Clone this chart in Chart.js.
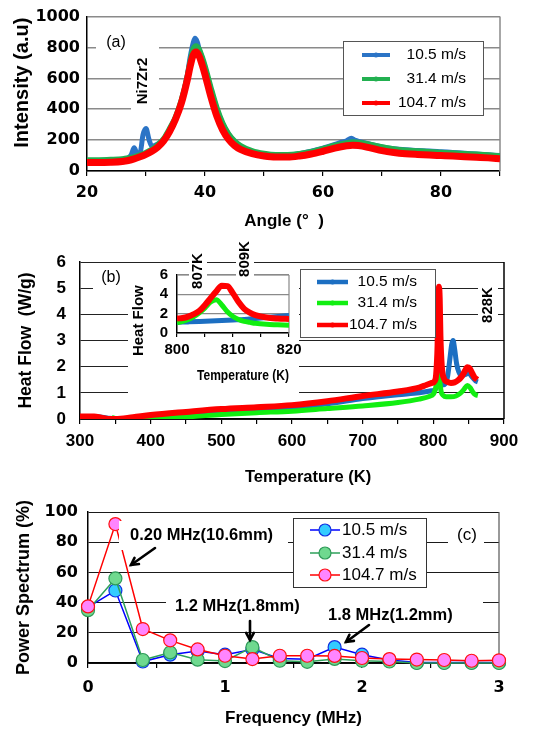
<!DOCTYPE html>
<html><head><meta charset="utf-8">
<script src="https://cdn.jsdelivr.net/npm/chart.js@4/dist/chart.umd.min.js"></script>
<style>
html,body{margin:0;padding:0;background:#fff;}
#wrap{position:relative;width:554px;height:731px;overflow:hidden;background:#fff;}
canvas{position:absolute;left:0;top:0;}
#insetBg{position:absolute;left:128px;top:266px;width:171px;height:132px;background:#fff;}
</style></head><body><div id="wrap">
<canvas id="cA" width="554" height="731"></canvas>
<canvas id="cB" width="554" height="731"></canvas>
<canvas id="cC" width="554" height="731"></canvas>
<div id="insetBg"></div>
<canvas id="cI" width="554" height="731"></canvas>
</div>
<script>
// ---------- DATA ----------
const seriesNames = ['10.5 m/s', '31.4 m/s', '104.7 m/s'];

// (a) XRD
const xrdAngle = [20,22,24,26,27,28,29,30,31,32,33,34,35,36,37,37.5,38,38.5,39,39.5,40,41,42,43,44,45,46,48,50,52,54,56,58,60,62,64,65,66,68,70,72,74,76,78,80,82,84,86,88,90];
const xrdRed   = [55,55,57,62,68,78,92,108,128,155,195,255,335,440,590,680,750,770,745,690,625,480,355,265,205,165,140,112,97,90,90,97,110,128,148,163,167,165,150,132,120,112,107,103,100,97,93,89,85,80];
const xrdGreen = [72,72,74,78,84,92,105,120,140,170,210,275,350,460,610,710,790,810,790,740,680,540,410,310,240,195,165,130,113,105,105,112,125,145,165,182,188,185,172,155,143,135,130,125,120,116,112,108,103,97];
const xrdBlueAngle = [20,22,24,26,27,27.5,28,28.5,29,29.5,30,30.5,31,32,33,34,35,36,37,37.5,38,38.3,38.7,39,39.5,40,41,42,43,44,45,46,48,50,52,54,56,58,60,62,63,64,64.8,65.5,66,68,70,72,74,76,78,80,82,84,86,88,90];
const xrdBlue  = [65,66,70,76,85,105,150,112,118,235,275,205,160,175,205,270,345,455,620,740,830,860,835,790,735,670,530,405,305,238,192,160,126,110,102,104,112,128,148,172,185,196,212,198,192,174,156,144,137,133,130,125,120,115,110,105,100];
const xrdXLabels = [20,40,60,80];
const xrdYLabels = [0,200,400,600,800,1000];

// (b) DSC
const dscRedT = [300,310,320,330,340,350,375,400,450,500,550,600,650,700,750,780,790,798,802,804,806,807,808,809,810,812,815,820,825,830,835,840,845,848,851,855,858,862];
const dscRed  = [0.10,0.10,0.10,0.05,0.0,0.0,0.07,0.15,0.27,0.38,0.45,0.53,0.68,0.88,1.05,1.2,1.3,1.38,1.45,1.7,2.8,4.2,5.05,4.6,3.2,2.0,1.55,1.42,1.38,1.4,1.48,1.62,1.85,1.98,1.95,1.75,1.6,1.5];
const dscBlueT = [300,320,340,360,400,450,500,550,600,650,700,750,780,795,802,805,807,808,810,813,817,820,823,826,828,830,833,836,840,845,850,855,860,863];
const dscBlue  = [0.1,0.1,0.03,0.02,0.1,0.2,0.3,0.37,0.45,0.58,0.78,0.93,1.0,1.07,1.12,1.25,1.7,1.9,1.5,1.3,1.35,1.6,2.2,2.85,3.0,2.7,2.1,1.8,1.65,1.7,1.75,1.6,1.45,1.42];
const dscGreenT = [345,350,380,400,450,500,550,600,650,700,750,780,795,800,803,805,806,807,808,809,811,814,818,825,832,838,843,848,852,856,860,863];
const dscGreen  = [0.06,0.02,0.0,0.03,0.08,0.17,0.24,0.3,0.4,0.5,0.63,0.76,0.87,0.95,1.15,1.5,1.9,2.3,2.0,1.5,1.05,0.9,0.85,0.85,0.88,0.98,1.12,1.28,1.2,1.02,0.92,0.9];
const dscXLabels = [300,400,500,600,700,800,900];
const dscYLabels = [0,1,2,3,4,5,6];

// (b) inset
const insetT = [800,801,802,803,804,805,806,807,808,809,810,811,812,813,814,816,818,820];
const insetRed   = [1.5,1.55,1.7,1.95,2.3,2.9,3.6,4.3,4.9,4.85,4.1,3.2,2.5,2.1,1.85,1.6,1.5,1.45];
const insetGreen = [1.05,1.2,1.4,1.7,2.1,2.6,3.2,3.45,2.9,2.2,1.7,1.4,1.2,1.1,1.0,0.9,0.85,0.8];
const insetBlueT = [800,802,804,806,808,810,812,814,816,818,820];
const insetBlue  = [1.1,1.15,1.2,1.25,1.3,1.35,1.4,1.5,1.6,1.7,1.8];
const insetXLabels = [800,810,820];
const insetYLabels = [0,2,4,6];

// (c) power spectrum
const freq    = [0,0.2,0.4,0.6,0.8,1.0,1.2,1.4,1.6,1.8,2.0,2.2,2.4,2.6,2.8,3.0];
const psBlue  = [37,48,1,5.5,8,5.5,9,3,2.5,10.5,5.5,2,0.3,0.3,0.3,0.3];
const psGreen = [35,56,2,7,2.2,1.3,10.5,1.5,0.8,2.7,1.5,1,0,0,0,0];
const psRed   = [37.5,92,22.5,15,9,4.8,2.6,4.8,4.8,4.7,3.3,2.6,2.3,2,1.5,1.8];
const psXLabels = [0,1,2,3];
const psYLabels = [0,20,40,60,80,100];

// ---------- HELPERS ----------
const F = "'Liberation Sans', Arial, sans-serif";
const FD = "'DejaVu Sans', sans-serif";
const pts = (xs, ys) => xs.map((x, i) => ({x: x, y: ys[i]}));
const lab = arr => v => arr.includes(Math.round(v * 1000) / 1000) ? String(Math.round(v * 1000) / 1000) : '';
let ovCount = 0;

function whiteRect(ctx, b) { ctx.fillStyle = '#fff'; ctx.fillRect(b[0], b[1], b[2] - b[0], b[3] - b[1]); }

function overlay(cfg) {
  ovCount++;
  return {
    id: 'ov' + ovCount,
    beforeDatasetsDraw(chart) {
      const ctx = chart.ctx, a = chart.chartArea;
      ctx.save();
      if (cfg.frame) {
        ctx.strokeStyle = cfg.frame.color; ctx.lineWidth = cfg.frame.width;
        ctx.beginPath(); ctx.moveTo(a.right, a.top); ctx.lineTo(a.right, a.bottom); ctx.stroke();
        if (cfg.frame.top) { ctx.beginPath(); ctx.moveTo(a.left, a.top); ctx.lineTo(a.right, a.top); ctx.stroke(); }
      }
      (cfg.texts || []).forEach(t => { if (t.box && !t.over) whiteRect(ctx, t.box); });
      ctx.restore();
    },
    afterDatasetsDraw(chart) {
      const ctx = chart.ctx;
      ctx.save();
      (cfg.texts || []).forEach(t => {
        if (t.box && t.over) whiteRect(ctx, t.box);
        ctx.save();
        ctx.translate(t.x, t.y);
        if (t.rot) ctx.rotate(t.rot * Math.PI / 180);
        ctx.fillStyle = '#000'; ctx.font = t.font;
        ctx.textAlign = t.align || 'center'; ctx.textBaseline = 'middle';
        ctx.fillText(t.t, 0, 0);
        ctx.restore();
      });
      (cfg.arrows || []).forEach(ar => {
        const [x1, y1, x2, y2] = ar;
        ctx.strokeStyle = '#000'; ctx.lineWidth = 2.6; ctx.lineCap = 'round';
        ctx.beginPath(); ctx.moveTo(x1, y1); ctx.lineTo(x2, y2); ctx.stroke();
        const ang = Math.atan2(y2 - y1, x2 - x1), h = 8;
        ctx.beginPath();
        ctx.moveTo(x2 - h * Math.cos(ang - 0.5), y2 - h * Math.sin(ang - 0.5));
        ctx.lineTo(x2, y2);
        ctx.lineTo(x2 - h * Math.cos(ang + 0.5), y2 - h * Math.sin(ang + 0.5));
        ctx.stroke();
      });
      const L = cfg.legend;
      if (L) {
        const [x1, y1, x2, y2] = L.box;
        whiteRect(ctx, L.box);
        ctx.strokeStyle = L.border; ctx.lineWidth = 1;
        ctx.strokeRect(x1 + 0.5, y1 + 0.5, x2 - x1, y2 - y1);
        chart.data.datasets.forEach((ds, i) => {
          const y = L.rows[i];
          ctx.strokeStyle = ds.borderColor; ctx.lineWidth = L.lineWidth; ctx.lineCap = 'butt';
          ctx.beginPath(); ctx.moveTo(L.lineX[0], y); ctx.lineTo(L.lineX[1], y); ctx.stroke();
          const mx = (L.lineX[0] + L.lineX[1]) / 2;
          ctx.beginPath(); ctx.arc(mx, y, L.markerR, 0, Math.PI * 2);
          ctx.fillStyle = ds.pointBackgroundColor || ds.borderColor; ctx.fill();
          if (L.markerStroke) { ctx.lineWidth = L.markerStroke; ctx.strokeStyle = ds.pointBorderColor || ds.borderColor; ctx.stroke(); }
          ctx.fillStyle = '#000'; ctx.font = L.font; ctx.textAlign = L.align; ctx.textBaseline = 'middle';
          ctx.fillText(ds.label, L.textX, y);
        });
      }
      ctx.restore();
    },
    afterDraw(chart) {
      // y tick labels positioned by the chart's own y scale (used for the small inset)
      const Y = cfg.yTickLabels;
      if (!Y) return;
      const ctx = chart.ctx, s = chart.scales.y;
      ctx.save();
      ctx.fillStyle = '#000'; ctx.font = Y.font; ctx.textAlign = 'right'; ctx.textBaseline = 'middle';
      Y.values.forEach(v => {
        ctx.fillText(String(v), s.right - Y.pad, s.getPixelForValue(v));
      });
      ctx.restore();
    }
  };
}

function xAxis(o) {
  return {
    type: 'linear', min: o.min, max: o.max,
    afterFit: s => { s.height = o.h; },
    ticks: { stepSize: o.step, autoSkip: false, maxRotation: 0, minRotation: 0, padding: o.pad,
      font: o.font, color: '#000', callback: lab(o.labels) },
    grid: { drawOnChartArea: false, drawTicks: true, tickLength: o.tick, color: '#000', lineWidth: 1.2 },
    border: { display: true, color: '#000', width: 1.5 },
    title: { display: true, text: o.title, font: o.tfont, color: '#000', padding: 0 }
  };
}
function yAxis(o) {
  return {
    type: 'linear', min: o.min, max: o.max,
    afterFit: s => { s.width = o.w; },
    afterBuildTicks: s => { s.ticks = o.labels.map(v => ({ value: v })); },
    ticks: { display: o.showTicks !== false, autoSkip: false, padding: o.pad, font: o.font, color: '#000', callback: lab(o.labels) },
    grid: { color: o.gcolor, lineWidth: o.gwidth, drawTicks: false },
    border: { display: true, color: '#000', width: 1.5 },
    title: { display: true, text: o.title, font: o.tfont, color: '#000', padding: { top: o.tpad, bottom: 0 } }
  };
}
const base = pad => ({
  responsive: false, animation: false, events: [],
  layout: { padding: pad },
  plugins: { legend: { display: false }, tooltip: { enabled: false }, title: { display: false } }
});
const line = (label, data, color, w, order) => ({
  label: label, data: data, showLine: true, borderColor: color, backgroundColor: color,
  borderWidth: w, pointRadius: 0, order: order, cubicInterpolationMode: 'monotone'
});

// ---------- (a) ----------
const aCol = ['#2B74C6', '#22B050', '#FF0000'];
new Chart(document.getElementById('cA'), {
  type: 'scatter',
  data: { datasets: [
    line(seriesNames[0], pts(xrdBlueAngle, xrdBlue), aCol[0], 5, 2),
    line(seriesNames[1], pts(xrdAngle, xrdGreen), aCol[1], 5.5, 1),
    line(seriesNames[2], pts(xrdAngle, xrdRed), aCol[2], 7, 0)
  ]},
  options: Object.assign(base({ left: 0, top: 16, right: 54, bottom: 499 }), {
    scales: {
      x: xAxis({ min: 20, max: 90, step: 10, h: 61, pad: 7, tick: 5, labels: xrdXLabels,
        font: { family: FD, size: 16, weight: 'bold' }, title: 'Angle (°  )    ',
        tfont: { family: F, size: 17, weight: 'bold' } }),
      y: yAxis({ min: 0, max: 1000, w: 87, pad: 7, labels: xrdYLabels,
        font: { family: FD, size: 16, weight: 'bold' }, gcolor: '#8a8a8a', gwidth: 1.5,
        title: '    Intensity (a.u)', tfont: { family: F, size: 20, weight: 'bold' }, tpad: 10 })
    }
  }),
  plugins: [overlay({
    frame: { color: '#8a8a8a', width: 1.5 },
    texts: [
      { t: '(a)', x: 116, y: 43, font: "16px " + F, box: [96, 30, 131, 58] },
      { t: 'Ni7Zr2', x: 143, y: 81, rot: -90, font: "bold 15px " + F, box: [131, 40, 159, 113] }
    ],
    legend: { box: [343, 41, 483, 115], border: '#555', rows: [55, 79, 103], lineX: [362, 390],
      lineWidth: 4, markerR: 2.5, textX: 466, align: 'right', font: "15.5px " + F }
  })]
});

// ---------- (b) main ----------
const bCol = ['#1C6FC2', '#11EE11', '#FF0000'];
new Chart(document.getElementById('cB'), {
  type: 'scatter',
  data: { datasets: [
    line(seriesNames[0], pts(dscBlueT, dscBlue), bCol[0], 5, 2),
    line(seriesNames[1], pts(dscGreenT, dscGreen), bCol[1], 5, 1),
    line(seriesNames[2], pts(dscRedT, dscRed), bCol[2], 6, 0)
  ]},
  options: Object.assign(base({ left: 0, top: 262, right: 50, bottom: 244 }), {
    scales: {
      x: xAxis({ min: 300, max: 900, step: 50, h: 68, pad: 7, tick: 5, labels: dscXLabels,
        font: { family: F, size: 17, weight: 'bold' }, title: '       Temperature (K)',
        tfont: { family: F, size: 16.5, weight: 'bold' } }),
      y: yAxis({ min: 0, max: 6, w: 80, pad: 14, labels: dscYLabels,
        font: { family: F, size: 17, weight: 'bold' }, gcolor: '#222', gwidth: 1,
        title: 'Heat Flow  (W/g)', tfont: { family: F, size: 17.5, weight: 'bold' }, tpad: 16 })
    }
  }),
  plugins: [overlay({
    frame: { color: '#000', width: 1.5 },
    texts: [
      { t: '(b)', x: 111, y: 278, font: "16px " + F, box: [93, 266, 128, 292] },
      { t: '828K', x: 488, y: 305, rot: -90, font: "bold 15px " + F, box: [478, 284, 498, 327] }
    ],
    legend: { box: [300, 269, 435, 337], border: '#555', rows: [282, 303, 325], lineX: [317, 348],
      lineWidth: 4.5, markerR: 2.5, textX: 417, align: 'right', font: "15.5px " + F }
  })]
});

// ---------- (c) ----------
new Chart(document.getElementById('cC'), {
  type: 'scatter',
  data: { datasets: [
    { label: seriesNames[0], data: pts(freq, psBlue), showLine: true, borderColor: '#0000FF', borderWidth: 1.5,
      pointRadius: 6.5, pointBackgroundColor: '#33CCFF', pointBorderColor: '#1030E0', pointBorderWidth: 1.2, order: 2, clip: false },
    { label: seriesNames[1], data: pts(freq, psGreen), showLine: true, borderColor: '#2EA05A', borderWidth: 1.5,
      pointRadius: 6.5, pointBackgroundColor: '#6FD98F', pointBorderColor: '#2E9A58', pointBorderWidth: 1.2, order: 1, clip: false },
    { label: seriesNames[2], data: pts(freq, psRed), showLine: true, borderColor: '#FF0000', borderWidth: 1.5,
      pointRadius: 6.5, pointBackgroundColor: '#FF85FF', pointBorderColor: '#FF1010', pointBorderWidth: 1.2, order: 0, clip: false }
  ]},
  options: Object.assign(base({ left: 0, top: 512, right: 55, bottom: 2 }), {
    scales: {
      x: xAxis({ min: 0, max: 3, step: 0.5, h: 66, pad: 10, tick: 5, labels: psXLabels,
        font: { family: FD, size: 16, weight: 'bold' }, title: 'Frequency (MHz)',
        tfont: { family: F, size: 17, weight: 'bold' } }),
      y: yAxis({ min: 0, max: 100, w: 88, pad: 10, labels: psYLabels,
        font: { family: FD, size: 16, weight: 'bold' }, gcolor: '#1a1a1a', gwidth: 1,
        title: 'Power Spectrum (%)', tfont: { family: F, size: 18, weight: 'bold' }, tpad: 13 })
    }
  }),
  plugins: [overlay({
    frame: { color: '#555', width: 1.2 },
    texts: [
      { t: '0.20 MHz(10.6mm)', x: 130, y: 535, align: 'left', font: "bold 16.5px " + F, box: [119, 521, 288, 550], over: true },
      { t: '1.2 MHz(1.8mm)', x: 175, y: 606, align: 'left', font: "bold 16.5px " + F, box: [166, 594, 306, 618], over: true },
      { t: '1.8 MHz(1.2mm)', x: 328, y: 615, align: 'left', font: "bold 16.5px " + F, box: [306, 597, 483, 628], over: true },
      { t: '(c)', x: 467, y: 535, font: "17px " + F, box: [448, 522, 484, 548], over: true }
    ],
    arrows: [[155, 548, 131, 565], [250, 621, 250, 640], [369, 625, 346, 642]],
    legend: { box: [293, 518, 426, 587], border: '#333', rows: [530, 553, 575], lineX: [310, 340],
      lineWidth: 1.5, markerR: 6, markerStroke: 1.2, textX: 342, align: 'left', font: "17px " + F }
  })]
});

// ---------- (b) inset (topmost canvas) ----------
new Chart(document.getElementById('cI'), {
  type: 'scatter',
  data: { datasets: [
    line(seriesNames[0], pts(insetBlueT, insetBlue), bCol[0], 5, 2),
    line(seriesNames[1], pts(insetT, insetGreen), bCol[1], 5, 1),
    line(seriesNames[2], pts(insetT, insetRed), bCol[2], 6, 0)
  ]},
  options: Object.assign(base({ left: 128, top: 275, right: 265, bottom: 346 }), {
    scales: {
      x: xAxis({ min: 800, max: 820, step: 5, h: 52, pad: 4, tick: 4, labels: insetXLabels,
        font: { family: F, size: 15, weight: 'bold' }, title: '      Temperature (K)',
        tfont: { family: F, size: 15, weight: 'bold' } }),
      y: yAxis({ min: 0, max: 6, w: 49, pad: 9, labels: insetYLabels, showTicks: false,
        font: { family: F, size: 15, weight: 'bold' }, gcolor: '#8a8a8a', gwidth: 1.2,
        title: 'Heat Flow        ', tfont: { family: F, size: 15, weight: 'bold' }, tpad: 2 })
    }
  }),
  plugins: [overlay({
    frame: { color: '#888', width: 1.2, top: true },
    yTickLabels: { font: "bold 15px " + F, pad: 9, values: insetYLabels },
    texts: [
      { t: '807K', x: 198, y: 271, rot: -90, font: "bold 15px " + F, box: [189, 250, 207, 292], over: true },
      { t: '809K', x: 245, y: 259, rot: -90, font: "bold 15px " + F, box: [236, 238, 254, 280], over: true }
    ]
  })]
});
</script>
</body></html>
